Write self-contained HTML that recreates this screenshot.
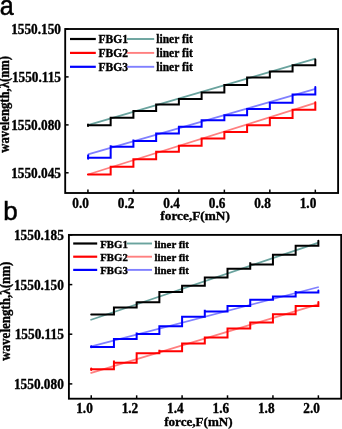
<!DOCTYPE html>
<html><head><meta charset="utf-8"><style>
html,body{margin:0;padding:0;background:#fff;width:342px;height:429px;overflow:hidden}
svg{display:block;will-change:transform}
</style></head><body>
<svg width="342" height="429" viewBox="0 0 342 429">
<rect width="342" height="429" fill="#fff"/>
<line x1="87.90" y1="125.10" x2="315.50" y2="58.60" stroke="#6aa39e" stroke-width="1.80"/>
<line x1="88.00" y1="154.30" x2="315.50" y2="88.90" stroke="#8080ff" stroke-width="1.80"/>
<line x1="88.00" y1="174.50" x2="315.50" y2="102.80" stroke="#ff8080" stroke-width="1.80"/>
<path d="M87.93 125.20 H110.67 V117.80 H133.41 V111.00 H156.15 V104.50 H178.89 V98.90 H201.62 V92.60 H224.36 V85.00 H247.10 V77.60 H269.84 V71.60 H292.58 V65.20 H315.32 V59.60" fill="none" stroke="#000000" stroke-width="2.00" stroke-linejoin="miter" stroke-linecap="round"/>
<path d="M87.93 174.50 H110.67 V166.80 H133.41 V159.30 H156.15 V151.80 H178.89 V145.80 H201.62 V138.60 H224.36 V132.00 H247.10 V125.20 H269.84 V118.00 H292.58 V109.80 H315.32 V102.20" fill="none" stroke="#ff0000" stroke-width="2.00" stroke-linejoin="miter" stroke-linecap="round"/>
<path d="M87.93 157.80 H110.67 V145.30 V146.80 H133.41 V139.60 V141.00 H156.15 V132.40 V133.50 H178.89 V126.80 H201.62 V120.20 H224.36 V115.30 H247.10 V109.00 H269.84 V102.70 H292.58 V94.40 H315.32 V87.00" fill="none" stroke="#0000ff" stroke-width="2.00" stroke-linejoin="miter" stroke-linecap="round"/>
<line x1="88.10" y1="155.20" x2="88.10" y2="158.70" stroke="#0000ff" stroke-width="2.00" stroke-linecap="round"/>
<line x1="88.00" y1="124.40" x2="88.00" y2="126.00" stroke="#000000" stroke-width="2.00" stroke-linecap="round"/>
<rect x="65.20" y="29.00" width="272.90" height="164.00" fill="none" stroke="#000" stroke-width="1.85"/>
<line x1="65.20" y1="29.00" x2="68.60" y2="29.00" stroke="#000" stroke-width="1.5"/>
<text transform="translate(61.00 33.70) scale(1.000 1.050)" font-family="Liberation Serif" font-weight="bold" stroke="#000" stroke-width="0.35" font-size="13.30" text-anchor="end">1550.150</text>
<line x1="65.20" y1="76.90" x2="68.60" y2="76.90" stroke="#000" stroke-width="1.5"/>
<text transform="translate(61.00 81.60) scale(1.000 1.050)" font-family="Liberation Serif" font-weight="bold" stroke="#000" stroke-width="0.35" font-size="13.30" text-anchor="end">1550.115</text>
<line x1="65.20" y1="124.90" x2="68.60" y2="124.90" stroke="#000" stroke-width="1.5"/>
<text transform="translate(61.00 129.60) scale(1.000 1.050)" font-family="Liberation Serif" font-weight="bold" stroke="#000" stroke-width="0.35" font-size="13.30" text-anchor="end">1550.080</text>
<line x1="65.20" y1="172.80" x2="68.60" y2="172.80" stroke="#000" stroke-width="1.5"/>
<text transform="translate(61.00 177.50) scale(1.000 1.050)" font-family="Liberation Serif" font-weight="bold" stroke="#000" stroke-width="0.35" font-size="13.30" text-anchor="end">1550.045</text>
<line x1="87.93" y1="193.00" x2="87.93" y2="189.60" stroke="#000" stroke-width="1.5"/>
<text transform="translate(88.93 207.80) scale(1.000 1.050)" font-family="Liberation Serif" font-weight="bold" stroke="#000" stroke-width="0.35" font-size="13.30" text-anchor="end">0.0</text>
<line x1="133.41" y1="193.00" x2="133.41" y2="189.60" stroke="#000" stroke-width="1.5"/>
<text transform="translate(134.41 207.80) scale(1.000 1.050)" font-family="Liberation Serif" font-weight="bold" stroke="#000" stroke-width="0.35" font-size="13.30" text-anchor="end">0.2</text>
<line x1="178.89" y1="193.00" x2="178.89" y2="189.60" stroke="#000" stroke-width="1.5"/>
<text transform="translate(179.89 207.80) scale(1.000 1.050)" font-family="Liberation Serif" font-weight="bold" stroke="#000" stroke-width="0.35" font-size="13.30" text-anchor="end">0.4</text>
<line x1="224.36" y1="193.00" x2="224.36" y2="189.60" stroke="#000" stroke-width="1.5"/>
<text transform="translate(225.36 207.80) scale(1.000 1.050)" font-family="Liberation Serif" font-weight="bold" stroke="#000" stroke-width="0.35" font-size="13.30" text-anchor="end">0.6</text>
<line x1="269.84" y1="193.00" x2="269.84" y2="189.60" stroke="#000" stroke-width="1.5"/>
<text transform="translate(270.84 207.80) scale(1.000 1.050)" font-family="Liberation Serif" font-weight="bold" stroke="#000" stroke-width="0.35" font-size="13.30" text-anchor="end">0.8</text>
<line x1="315.32" y1="193.00" x2="315.32" y2="189.60" stroke="#000" stroke-width="1.5"/>
<text transform="translate(316.32 207.80) scale(1.000 1.050)" font-family="Liberation Serif" font-weight="bold" stroke="#000" stroke-width="0.35" font-size="13.30" text-anchor="end">1.0</text>
<line x1="70.00" y1="39.00" x2="95.80" y2="39.00" stroke="#000000" stroke-width="2.2"/>
<text transform="translate(98.60 43.10)" font-family="Liberation Serif" font-weight="bold" stroke="#000" stroke-width="0.35" font-size="11.50" text-anchor="start">FBG1</text>
<line x1="127.00" y1="39.00" x2="154.20" y2="39.00" stroke="#6aa39e" stroke-width="1.9"/>
<text transform="translate(156.30 43.10)" font-family="Liberation Serif" font-weight="bold" stroke="#000" stroke-width="0.35" font-size="11.50" text-anchor="start">liner fit</text>
<line x1="70.00" y1="52.90" x2="95.80" y2="52.90" stroke="#ff0000" stroke-width="2.2"/>
<text transform="translate(98.60 57.00)" font-family="Liberation Serif" font-weight="bold" stroke="#000" stroke-width="0.35" font-size="11.50" text-anchor="start">FBG2</text>
<line x1="127.00" y1="52.90" x2="154.20" y2="52.90" stroke="#ff8080" stroke-width="1.9"/>
<text transform="translate(156.30 57.00)" font-family="Liberation Serif" font-weight="bold" stroke="#000" stroke-width="0.35" font-size="11.50" text-anchor="start">liner fit</text>
<line x1="70.00" y1="66.80" x2="95.80" y2="66.80" stroke="#0000ff" stroke-width="2.2"/>
<text transform="translate(98.60 70.90)" font-family="Liberation Serif" font-weight="bold" stroke="#000" stroke-width="0.35" font-size="11.50" text-anchor="start">FBG3</text>
<line x1="127.00" y1="66.80" x2="154.20" y2="66.80" stroke="#8080ff" stroke-width="1.9"/>
<text transform="translate(156.30 70.90)" font-family="Liberation Serif" font-weight="bold" stroke="#000" stroke-width="0.35" font-size="11.50" text-anchor="start">liner fit</text>
<text transform="translate(-0.20 15.00) scale(0.930 1.000)" font-family="Liberation Sans" stroke="#000" stroke-width="0.5" font-size="27.00" text-anchor="start">a</text>
<text transform="translate(8.70 104.30) rotate(-90) scale(1.000 1.080)" font-family="Liberation Serif" font-weight="bold" stroke="#000" stroke-width="0.35" font-size="12.70" text-anchor="middle">wavelength,&#955;(nm)</text>
<text transform="translate(195.10 219.60)" font-family="Liberation Serif" font-weight="bold" stroke="#000" stroke-width="0.35" font-size="13.30" text-anchor="middle">force,F(mN)</text>
<line x1="90.40" y1="320.00" x2="318.50" y2="242.60" stroke="#6aa39e" stroke-width="1.80"/>
<line x1="90.50" y1="346.60" x2="318.80" y2="287.00" stroke="#8080ff" stroke-width="1.80"/>
<line x1="90.50" y1="373.20" x2="318.80" y2="304.20" stroke="#ff8080" stroke-width="1.80"/>
<path d="M91.23 314.60 H113.94 V307.60 H136.66 V301.60 V302.30 H159.37 V292.00 H182.09 V285.80 H204.80 V277.60 H227.51 V268.80 H250.23 V262.20 V264.50 H272.94 V254.80 H295.66 V245.80 H318.37 V240.80" fill="none" stroke="#000000" stroke-width="2.00" stroke-linejoin="miter" stroke-linecap="round"/>
<path d="M91.23 369.20 H113.94 V360.60 V362.70 H136.66 V353.20 H159.37 V349.80 V351.30 H182.09 V343.50 H204.80 V337.50 H227.51 V328.50 H250.23 V322.60 H272.94 V314.20 H295.66 V305.90 H318.37 V302.00" fill="none" stroke="#ff0000" stroke-width="2.00" stroke-linejoin="miter" stroke-linecap="round"/>
<path d="M91.23 347.00 H113.94 V338.90 H136.66 V332.40 V334.00 H159.37 V326.30 H182.09 V316.80 H204.80 V309.80 V311.60 H227.51 V306.00 H250.23 V299.80 H272.94 V296.40 H295.66 V291.00 V292.50 H318.37 V290.60" fill="none" stroke="#0000ff" stroke-width="2.00" stroke-linejoin="miter" stroke-linecap="round"/>
<line x1="91.20" y1="346.20" x2="91.20" y2="347.20" stroke="#0000ff" stroke-width="2.00" stroke-linecap="round"/>
<line x1="91.20" y1="368.60" x2="91.20" y2="370.00" stroke="#ff0000" stroke-width="2.00" stroke-linecap="round"/>
<rect x="68.90" y="234.90" width="272.30" height="163.80" fill="none" stroke="#000" stroke-width="1.85"/>
<line x1="68.90" y1="234.90" x2="72.30" y2="234.90" stroke="#000" stroke-width="1.5"/>
<text transform="translate(63.80 240.00) scale(1.000 1.050)" font-family="Liberation Serif" font-weight="bold" stroke="#000" stroke-width="0.35" font-size="13.30" text-anchor="end">1550.185</text>
<line x1="68.90" y1="284.60" x2="72.30" y2="284.60" stroke="#000" stroke-width="1.5"/>
<text transform="translate(63.80 289.70) scale(1.000 1.050)" font-family="Liberation Serif" font-weight="bold" stroke="#000" stroke-width="0.35" font-size="13.30" text-anchor="end">1550.150</text>
<line x1="68.90" y1="334.20" x2="72.30" y2="334.20" stroke="#000" stroke-width="1.5"/>
<text transform="translate(63.80 339.30) scale(1.000 1.050)" font-family="Liberation Serif" font-weight="bold" stroke="#000" stroke-width="0.35" font-size="13.30" text-anchor="end">1550.115</text>
<line x1="68.90" y1="383.90" x2="72.30" y2="383.90" stroke="#000" stroke-width="1.5"/>
<text transform="translate(63.80 389.00) scale(1.000 1.050)" font-family="Liberation Serif" font-weight="bold" stroke="#000" stroke-width="0.35" font-size="13.30" text-anchor="end">1550.080</text>
<line x1="91.23" y1="398.70" x2="91.23" y2="395.30" stroke="#000" stroke-width="1.5"/>
<text transform="translate(92.83 413.20) scale(1.000 1.050)" font-family="Liberation Serif" font-weight="bold" stroke="#000" stroke-width="0.35" font-size="13.30" text-anchor="end">1.0</text>
<line x1="136.66" y1="398.70" x2="136.66" y2="395.30" stroke="#000" stroke-width="1.5"/>
<text transform="translate(138.26 413.20) scale(1.000 1.050)" font-family="Liberation Serif" font-weight="bold" stroke="#000" stroke-width="0.35" font-size="13.30" text-anchor="end">1.2</text>
<line x1="182.09" y1="398.70" x2="182.09" y2="395.30" stroke="#000" stroke-width="1.5"/>
<text transform="translate(183.69 413.20) scale(1.000 1.050)" font-family="Liberation Serif" font-weight="bold" stroke="#000" stroke-width="0.35" font-size="13.30" text-anchor="end">1.4</text>
<line x1="227.51" y1="398.70" x2="227.51" y2="395.30" stroke="#000" stroke-width="1.5"/>
<text transform="translate(229.11 413.20) scale(1.000 1.050)" font-family="Liberation Serif" font-weight="bold" stroke="#000" stroke-width="0.35" font-size="13.30" text-anchor="end">1.6</text>
<line x1="272.94" y1="398.70" x2="272.94" y2="395.30" stroke="#000" stroke-width="1.5"/>
<text transform="translate(274.54 413.20) scale(1.000 1.050)" font-family="Liberation Serif" font-weight="bold" stroke="#000" stroke-width="0.35" font-size="13.30" text-anchor="end">1.8</text>
<line x1="318.37" y1="398.70" x2="318.37" y2="395.30" stroke="#000" stroke-width="1.5"/>
<text transform="translate(319.97 413.20) scale(1.000 1.050)" font-family="Liberation Serif" font-weight="bold" stroke="#000" stroke-width="0.35" font-size="13.30" text-anchor="end">2.0</text>
<line x1="73.20" y1="243.50" x2="97.20" y2="243.50" stroke="#000000" stroke-width="2.2"/>
<text transform="translate(100.20 247.60)" font-family="Liberation Serif" font-weight="bold" stroke="#000" stroke-width="0.35" font-size="10.80" text-anchor="start">FBG1</text>
<line x1="126.80" y1="243.50" x2="152.00" y2="243.50" stroke="#6aa39e" stroke-width="1.9"/>
<text transform="translate(154.60 247.60)" font-family="Liberation Serif" font-weight="bold" stroke="#000" stroke-width="0.35" font-size="10.80" text-anchor="start">liner fit</text>
<line x1="73.20" y1="256.70" x2="97.20" y2="256.70" stroke="#ff0000" stroke-width="2.2"/>
<text transform="translate(100.20 260.80)" font-family="Liberation Serif" font-weight="bold" stroke="#000" stroke-width="0.35" font-size="10.80" text-anchor="start">FBG2</text>
<line x1="126.80" y1="256.70" x2="152.00" y2="256.70" stroke="#ff8080" stroke-width="1.9"/>
<text transform="translate(154.60 260.80)" font-family="Liberation Serif" font-weight="bold" stroke="#000" stroke-width="0.35" font-size="10.80" text-anchor="start">liner fit</text>
<line x1="73.20" y1="269.90" x2="97.20" y2="269.90" stroke="#0000ff" stroke-width="2.2"/>
<text transform="translate(100.20 274.00)" font-family="Liberation Serif" font-weight="bold" stroke="#000" stroke-width="0.35" font-size="10.80" text-anchor="start">FBG3</text>
<line x1="126.80" y1="269.90" x2="152.00" y2="269.90" stroke="#8080ff" stroke-width="1.9"/>
<text transform="translate(154.60 274.00)" font-family="Liberation Serif" font-weight="bold" stroke="#000" stroke-width="0.35" font-size="10.80" text-anchor="start">liner fit</text>
<text transform="translate(3.20 220.00)" font-family="Liberation Sans" stroke="#000" stroke-width="0.5" font-size="26.00" text-anchor="start">b</text>
<text transform="translate(10.00 311.20) rotate(-90) scale(1.000 1.100)" font-family="Liberation Serif" font-weight="bold" stroke="#000" stroke-width="0.35" font-size="13.00" text-anchor="middle">wavelength,&#955;(nm)</text>
<text transform="translate(198.40 426.00)" font-family="Liberation Serif" font-weight="bold" stroke="#000" stroke-width="0.35" font-size="13.10" text-anchor="middle">force,F(mN)</text>
</svg>
</body></html>
